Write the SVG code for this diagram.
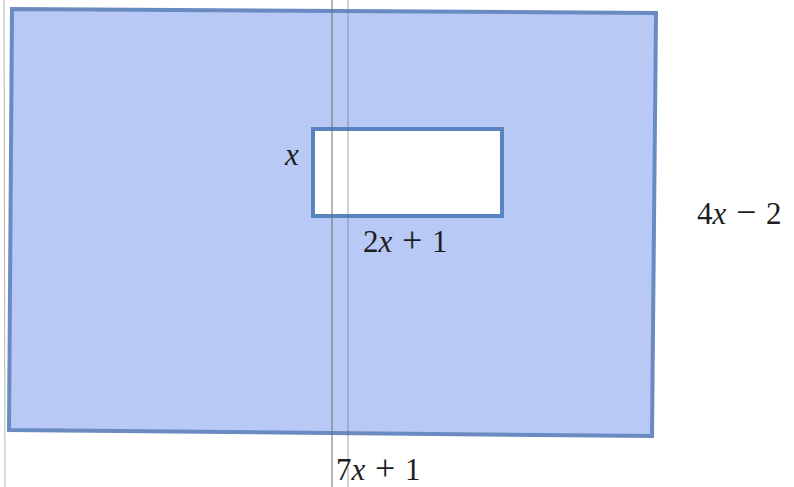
<svg xmlns="http://www.w3.org/2000/svg" width="794" height="487" viewBox="0 0 794 487">
<style>
.lbl{font-family:"Liberation Serif","DejaVu Serif",serif;font-size:31px;fill:#1e1e1e;word-spacing:2px}
.v{font-style:italic}
.op{font-size:36px}
.scan{stroke:#6b6b6b;stroke-width:1;fill:none}
</style>
<rect width="794" height="487" fill="#ffffff"/>
<g id="outer">
<polygon points="12,9 656,13 652,436 9,430" fill="#b7c9f4" stroke="#6a8bc2" stroke-width="4"/>
</g>
<g id="inner">
<rect x="313" y="129" width="189" height="87" fill="#ffffff" stroke="#5a84c0" stroke-width="4"/>
</g>
<g id="scanlines">
<line class="scan" x1="4" y1="0" x2="5" y2="487" stroke-opacity="0.5"/>
<line class="scan" x1="332" y1="0" x2="332" y2="487"/>
<line class="scan" x1="348" y1="0" x2="348" y2="487" stroke-opacity="0.6"/>
</g>
<g id="labels">
<text class="lbl v" x="285" y="165">x</text>
<text class="lbl" x="363" y="252">2<tspan class="v">x</tspan> <tspan class="op">+</tspan> 1</text>
<text class="lbl" x="697" y="224">4<tspan class="v">x</tspan> <tspan class="op">−</tspan> 2</text>
<text class="lbl" x="336" y="480">7<tspan class="v">x</tspan> <tspan class="op">+</tspan> 1</text>
</g>
</svg>
